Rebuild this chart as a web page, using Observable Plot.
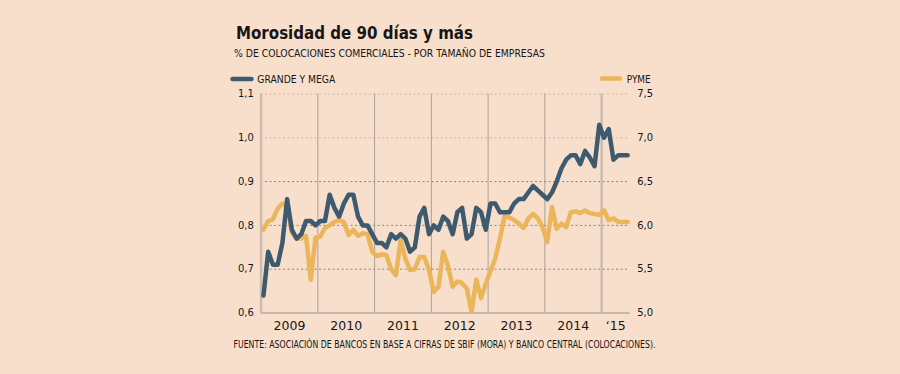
<!DOCTYPE html>
<html>
<head>
<meta charset="utf-8">
<script src="https://cdn.jsdelivr.net/npm/d3@7"></script>
<script src="https://cdn.jsdelivr.net/npm/@observablehq/plot@0.6"></script>
<style>
  html, body { margin: 0; padding: 0; background: #F8DFCC; }
  #wrap { position: relative; width: 900px; height: 374px; overflow: hidden; background: #F8DFCC; font-family: "DejaVu Sans", sans-serif; color: #1b1b1b; }
  #head { position: absolute; left: 0; top: 0; overflow: visible; z-index: 2; }
  #chart { position: absolute; left: 0; top: 80px; z-index: 1; }
  #foot { position: absolute; left: 0; top: 336px; }
  svg text { font-family: "DejaVu Sans", sans-serif; }
</style>
</head>
<body>
<div id="wrap">
  <svg id="head" width="900" height="92"></svg>
  <div id="chart"></div>
  <svg id="foot" width="900" height="38"></svg>
</div>
<script>
// ---- Data (monthly, Jan 2009 – Jun 2015) ----
const title = "Morosidad de 90 días y más";
const subtitle = "% DE COLOCACIONES COMERCIALES - POR TAMAÑO DE EMPRESAS";
const source = "FUENTE: ASOCIACIÓN DE BANCOS EN BASE A CIFRAS DE SBIF (MORA) Y BANCO CENTRAL (COLOCACIONES).";
const seriesNames = ["GRANDE Y MEGA", "PYME"];
const yearLabels = ["2009", "2010", "2011", "2012", "2013", "2014", "‘15"];
const leftTicks = [0.6, 0.7, 0.8, 0.9, 1.0, 1.1];
const rightTicks = [5.0, 5.5, 6.0, 6.5, 7.0, 7.5];

// GRANDE Y MEGA (left axis, %)
const grande = [
  0.64, 0.74, 0.71, 0.71, 0.76, 0.86, 0.79, 0.77, 0.78, 0.81, 0.81, 0.80,
  0.81, 0.81, 0.87, 0.84, 0.82, 0.85, 0.87, 0.87, 0.82, 0.80, 0.80, 0.78,
  0.76, 0.76, 0.75, 0.78, 0.77, 0.78, 0.77, 0.74, 0.75, 0.82, 0.84, 0.78,
  0.80, 0.79, 0.82, 0.81, 0.78, 0.83, 0.84, 0.77, 0.78, 0.84, 0.83, 0.79,
  0.85, 0.85, 0.83, 0.83, 0.83, 0.85, 0.86, 0.86, 0.875, 0.89, 0.88, 0.87,
  0.86, 0.875, 0.90, 0.93, 0.95, 0.96, 0.96, 0.94, 0.97, 0.955, 0.935, 1.03,
  1.00, 1.02, 0.95, 0.96, 0.96, 0.96
];
// PYME (right axis, %)
const pyme = [
  5.95, 6.05, 6.07, 6.19, 6.25, 6.22, 5.92, 5.85, 5.85, 5.88, 5.38, 5.86,
  5.87, 5.97, 6.00, 6.04, 6.06, 6.04, 5.89, 5.95, 5.88, 5.91, 5.90, 5.70,
  5.65, 5.67, 5.66, 5.50, 5.43, 5.83, 5.62, 5.49, 5.50, 5.64, 5.64, 5.49,
  5.24, 5.30, 5.70, 5.54, 5.30, 5.36, 5.34, 5.28, 5.01, 5.38, 5.17, 5.33,
  5.48, 5.62, 5.85, 6.11, 6.09, 6.06, 6.02, 5.97, 6.08, 6.13, 6.08, 5.98,
  5.81, 6.21, 5.96, 6.02, 5.98, 6.15, 6.16, 6.14, 6.17, 6.14, 6.13, 6.12,
  6.17, 6.06, 6.08, 6.04, 6.04, 6.04
];

// ---- Styling ----
const BLUE = "#3E5A6E";
const YELLOW = "#EBB55A";
const INK = "#161616";

const nMonths = grande.length;
const fmt = v => v.toFixed(1).replace(".", ",");

// map right axis (PYME) onto left scale
const r0 = rightTicks[0], r1 = rightTicks[rightTicks.length - 1];
const l0 = leftTicks[0], l1 = leftTicks[leftTicks.length - 1];
const toLeft = p => l0 + (p - r0) * (l1 - l0) / (r1 - r0);
const toRight = g => r0 + (g - l0) * (r1 - r0) / (l1 - l0);

const gData = grande.map((v, i) => ({m: i + 0.5, v}));
const pData = pyme.map((v, i) => ({m: i + 0.5, v: toLeft(v)}));

const yearStarts = yearLabels.map((_, i) => i * 12);
const yearMids = yearLabels.map((_, i) => (i * 12 + Math.min(i * 12 + 12, nMonths)) / 2);
const labelAt = new Map(yearMids.map((m, i) => [m, yearLabels[i]]));

const chart = Plot.plot({
  width: 900,
  height: 256,
  marginLeft: 260.6,
  marginRight: 270.5,
  marginTop: 13.5,
  marginBottom: 23.5,
  style: {background: "transparent", fontFamily: "DejaVu Sans, sans-serif", fontSize: "10px", color: INK, overflow: "visible"},
  x: {domain: [0, nMonths], axis: null},
  y: {domain: [l0, l1], axis: null},
  marks: [
    Plot.ruleY(leftTicks.filter(t => t > l0 && t < 0.95), {stroke: "#8a837c", strokeDasharray: "2,2.5", strokeWidth: 1}),
    Plot.ruleY(leftTicks.filter(t => t >= 0.95), {stroke: "#c9b5a5", strokeDasharray: "2,2.5", strokeWidth: 1}),
    Plot.ruleX(yearStarts.filter(s => s > 0 && s < 72), {stroke: "#a8a099", strokeWidth: 1}),
    Plot.ruleX(yearStarts.filter(s => s === 0 || s === 72), {stroke: "#cdbdb0", strokeWidth: 2.5}),
    Plot.ruleY([l0], {stroke: "#b4aaa1", strokeWidth: 1.5}),
    Plot.line(pData, {x: "m", y: "v", stroke: YELLOW, strokeWidth: 4.5}),
    Plot.line(gData, {x: "m", y: "v", stroke: BLUE, strokeWidth: 4.5}),
    Plot.axisY({anchor: "left", ticks: leftTicks, tickSize: 0, tickPadding: 7.3, tickFormat: fmt, fontSize: 10, label: null}),
    Plot.axisY({anchor: "right", ticks: leftTicks, tickSize: 0, tickPadding: 7.2, tickFormat: d => fmt(toRight(d)), fontSize: 10, label: null}),
    Plot.axisX({ticks: yearMids, tickSize: 0, tickPadding: 8, tickFormat: d => labelAt.get(d), fontSize: 12.5, label: null})
  ]
});
document.getElementById("chart").appendChild(chart);

// ---- Header: title, subtitle, legend ----
const head = d3.select("#head");
head.append("text").attr("x", 236).attr("y", 38.5)
  .attr("font-size", 17.5).attr("font-weight", "bold").attr("fill", INK)
  .attr("textLength", 237).attr("lengthAdjust", "spacingAndGlyphs").text(title);
head.append("text").attr("x", 234).attr("y", 57.3)
  .attr("font-size", 9.8).attr("fill", INK)
  .attr("textLength", 311).attr("lengthAdjust", "spacingAndGlyphs").text(subtitle);
// legend
head.append("line").attr("x1", 232.5).attr("x2", 251.5).attr("y1", 79).attr("y2", 79)
  .attr("stroke", BLUE).attr("stroke-width", 4.5).attr("stroke-linecap", "round");
head.append("text").attr("x", 257.3).attr("y", 83.2)
  .attr("font-size", 10).attr("fill", INK)
  .attr("textLength", 78).attr("lengthAdjust", "spacingAndGlyphs").text(seriesNames[0]);
head.append("line").attr("x1", 602).attr("x2", 620).attr("y1", 78.5).attr("y2", 78.5)
  .attr("stroke", YELLOW).attr("stroke-width", 4.5).attr("stroke-linecap", "round");
head.append("text").attr("x", 626.7).attr("y", 82.8)
  .attr("font-size", 10).attr("fill", INK)
  .attr("textLength", 24).attr("lengthAdjust", "spacingAndGlyphs").text(seriesNames[1]);

// ---- Footer: source ----
d3.select("#foot").append("text").attr("x", 233.5).attr("y", 12)
  .attr("font-size", 9.6).attr("fill", INK)
  .attr("textLength", 422).attr("lengthAdjust", "spacingAndGlyphs").text(source);
</script>
</body>
</html>
